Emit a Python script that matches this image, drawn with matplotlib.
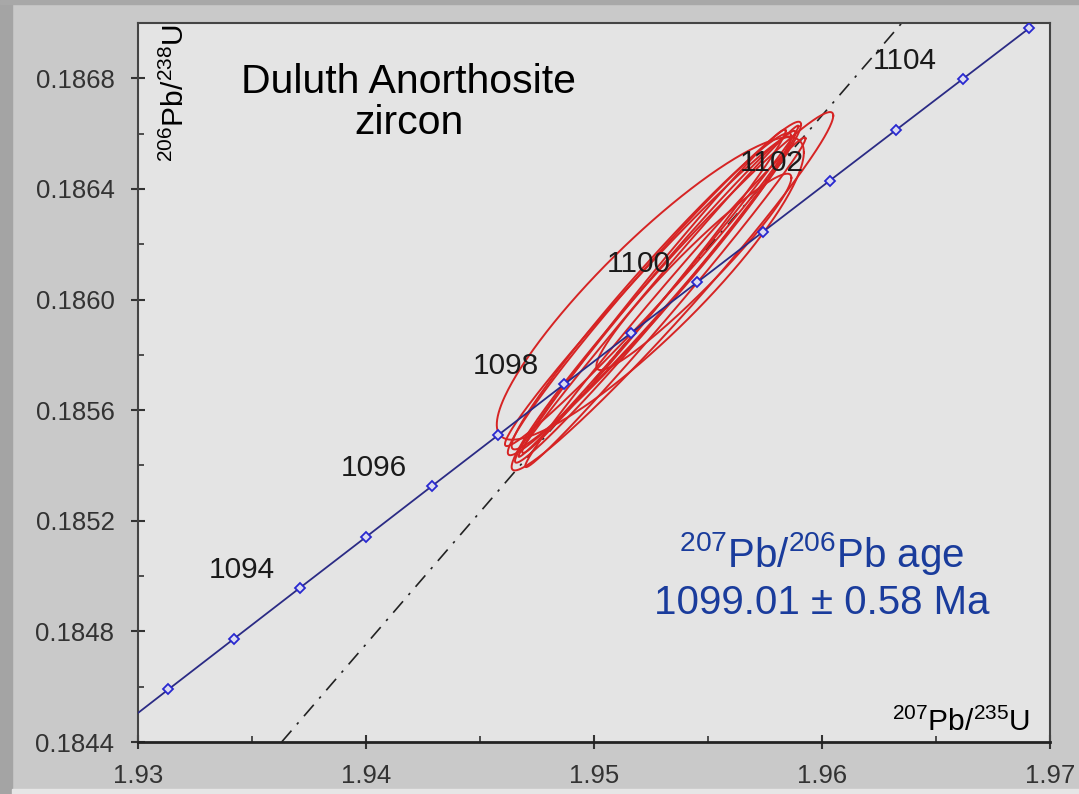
import numpy as np
import matplotlib
matplotlib.use("Agg")
import matplotlib.pyplot as plt
from matplotlib.patches import Rectangle
from matplotlib.ticker import MultipleLocator, FormatStrFormatter

plt.rcParams['font.family'] = ['Liberation Sans', 'DejaVu Sans']
plt.rcParams['mathtext.default'] = 'regular'

# concordia ages (Ma) and their ratios
ages = [1091, 1092, 1093, 1094, 1095, 1096, 1097, 1098, 1099, 1100, 1101, 1102, 1103, 1104, 1105]
pb207_u235 = [1.92845, 1.93133, 1.93422, 1.93711, 1.94001, 1.94290, 1.94580, 1.94870,
              1.95161, 1.95452, 1.95743, 1.96034, 1.96326, 1.96618, 1.96910]
pb206_u238 = [0.184406, 0.184590, 0.184774, 0.184958, 0.185142, 0.185326, 0.185510, 0.185694,
              0.185878, 0.186062, 0.186246, 0.186430, 0.186614, 0.186798, 0.186982]
age_labels = [1094, 1096, 1098, 1100, 1102, 1104]

# discordia line end points
disc_x = [1.9363, 1.9635]
disc_y = [0.1844, 0.1870]

# zircon analyses: x, sx, y, sy, rho (ellipse half extents)
ell_x   = [1.95247, 1.95344, 1.95265, 1.95269, 1.95263, 1.95236, 1.95313, 1.95438, 1.95283, 1.95252]
ell_sx  = [0.006734, 0.007053, 0.006431, 0.006155, 0.005779, 0.006265, 0.006147, 0.004276, 0.006142, 0.006133]
ell_y   = [0.18604, 0.18603, 0.18604, 0.18601, 0.18603, 0.18603, 0.18599, 0.18610, 0.18603, 0.18603]
ell_sy  = [0.000547, 0.000648, 0.000603, 0.000600, 0.000585, 0.000560, 0.000596, 0.000355, 0.000599, 0.000572]
ell_rho = [0.900, 0.980, 0.983, 0.990, 0.9925, 0.987, 0.994, 0.958, 0.9966, 0.978]

fig = plt.figure(figsize=(10.79, 7.94), dpi=100, facecolor='#c9c9c9')
# darker frame strips of the slide background
fig.add_artist(Rectangle((0, 0), 12/1079, 1, transform=fig.transFigure, color='#a4a4a4', zorder=0))
fig.add_artist(Rectangle((0, 1 - 4/794), 1, 4/794, transform=fig.transFigure, color='#a8a8a8', zorder=0))
fig.add_artist(Rectangle((12/1079, 0), 1, 5/794, transform=fig.transFigure, color='#e6e6e6', zorder=0))

ax = fig.add_axes([138/1079, 52/794, 912/1079, 719/794])
ax.set_facecolor('#e4e4e4')

# discordia
ax.plot(disc_x, disc_y, color='#222222', lw=1.2, linestyle=(0, (9, 5, 1.5, 5)), zorder=2)

# error ellipses
t = np.linspace(0, 2 * np.pi, 300)
for x, sx, y, sy, r in zip(ell_x, ell_sx, ell_y, ell_sy, ell_rho):
    cov = np.array([[sx**2, r * sx * sy], [r * sx * sy, sy**2]])
    L = np.linalg.cholesky(cov)
    pts = L @ np.vstack([np.cos(t), np.sin(t)])
    ax.plot(x + pts[0], y + pts[1], color='#d62424', lw=1.4, zorder=3)

# concordia
ax.plot(pb207_u235, pb206_u238, color='#2b2b85', lw=1.3, marker='D', ms=5,
        mec='#2828d0', mfc='#dcdcf0', mew=1.3, zorder=4)

for a in age_labels:
    i = ages.index(a)
    ax.annotate(str(a), (pb207_u235[i], pb206_u238[i]), xytext=(-42, 13),
                textcoords='offset points', ha='center', va='center',
                fontsize=21.5, color='#1a1a1a', zorder=5)

ax.set_xlim(1.93, 1.97)
ax.set_ylim(0.1844, 0.1870)
ax.xaxis.set_major_locator(MultipleLocator(0.01))
ax.xaxis.set_minor_locator(MultipleLocator(0.005))
ax.yaxis.set_major_locator(MultipleLocator(0.0004))
ax.yaxis.set_minor_locator(MultipleLocator(0.0002))
ax.xaxis.set_major_formatter(FormatStrFormatter('%.2f'))
ax.yaxis.set_major_formatter(FormatStrFormatter('%.4f'))
ax.tick_params(which='major', direction='inout', length=10, width=1.5, color='#333333',
               labelsize=18.5, labelcolor='#333333')
ax.tick_params(axis='y', which='major', pad=12)
ax.tick_params(axis='x', which='major', pad=11)
ax.tick_params(which='minor', direction='in', length=4, width=1.2, color='#333333')
for s in ax.spines.values():
    s.set_color('#444444')
    s.set_linewidth(1.5)
ax.spines['bottom'].set_linewidth(2)
ax.spines['bottom'].set_color('#222222')

ax.text(0.297, 0.944, 'Duluth Anorthosite\nzircon', transform=ax.transAxes,
        ha='center', va='top', fontsize=29.5, color='black', linespacing=1.1)
ax.text(0.75, 0.295, '$^{207}$Pb/$^{206}$Pb age\n1099.01 ± 0.58 Ma', transform=ax.transAxes,
        ha='center', va='top', fontsize=29, color='#1a3c9c', linespacing=1.25)
ax.text(0.978, 0.015, '$^{207}$Pb/$^{235}$U', transform=ax.transAxes,
        ha='right', va='baseline', fontsize=21.5, color='black')
ax.text(0.041, 0.999, '$^{206}$Pb/$^{238}$U', transform=ax.transAxes, rotation=90,
        ha='center', va='top', fontsize=21.5, color='black')

fig.savefig('out.png', dpi=100, facecolor=fig.get_facecolor())
